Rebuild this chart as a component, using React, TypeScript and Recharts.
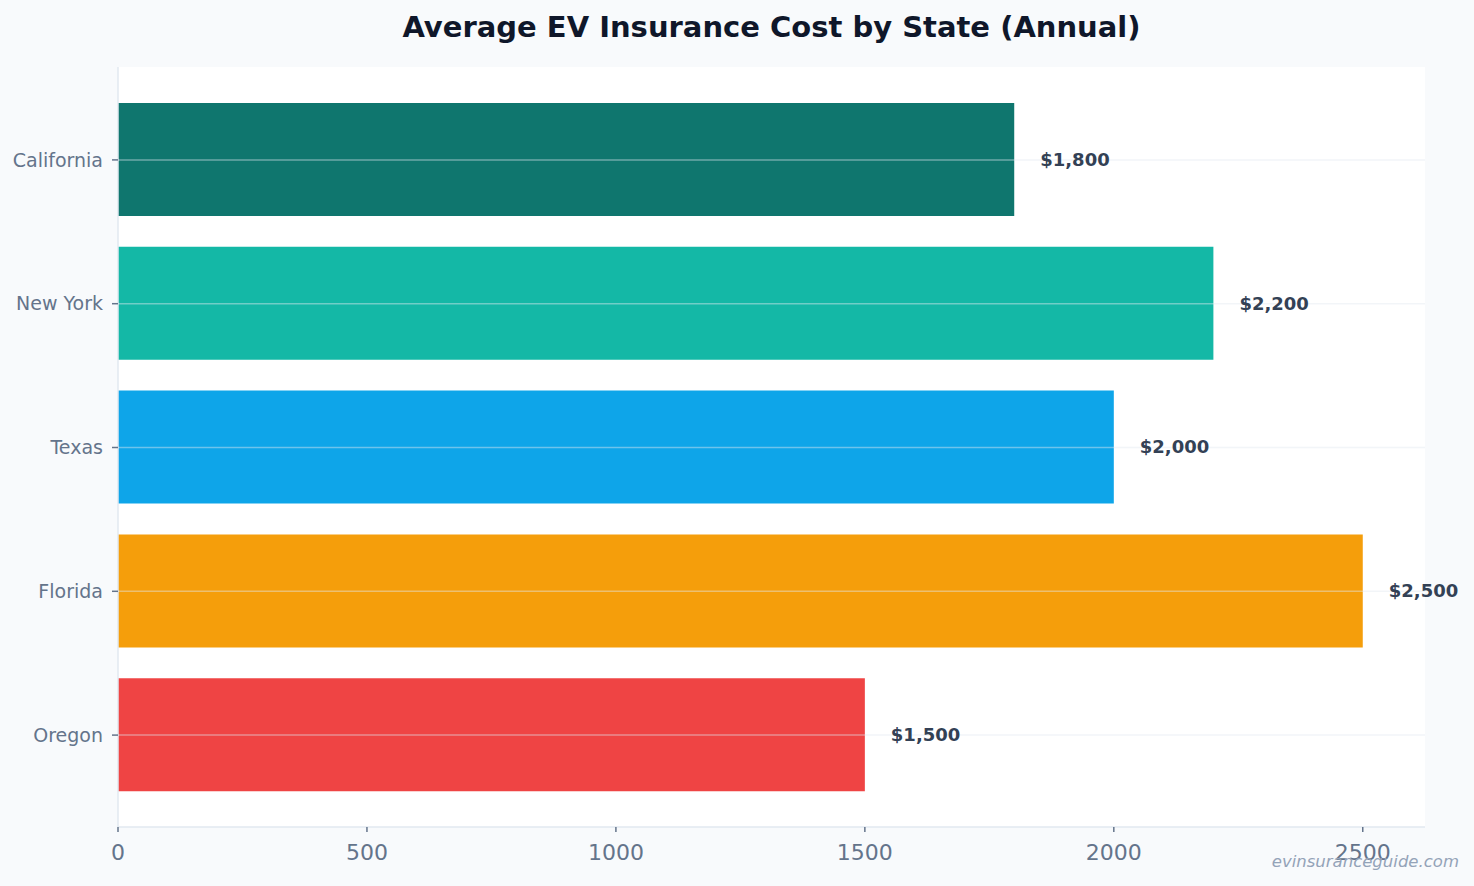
import { BarChart, Bar, Cell, XAxis, YAxis, CartesianGrid, ReferenceLine, LabelList } from 'recharts';

const states = ['California', 'New York', 'Texas', 'Florida', 'Oregon'];
const annualCost = [1800, 2200, 2000, 2500, 1500];
const barColors = ['#0f766e', '#14b8a6', '#0ea5e9', '#f59e0b', '#ef4444'];
const costTicks = [0, 500, 1000, 1500, 2000, 2500];

const data = states.map((state, i) => ({ state, cost: annualCost[i] }));

const FONT = '"DejaVu Sans", sans-serif';

const fmtCost = (v: number) => '$' + v.toLocaleString('en-US');

export default function App() {
  return (
    <div
      style={{
        position: 'absolute',
        left: 0,
        top: 0,
        width: 1474,
        height: 886,
        background: '#f8fafc',
        fontFamily: FONT,
      }}
    >
      <div
        style={{
          position: 'absolute',
          left: 118,
          width: 1307,
          top: 8,
          textAlign: 'center',
          fontSize: 29,
          fontWeight: 'bold',
          color: '#0f172a',
          lineHeight: '38px',
        }}
      >
        Average EV Insurance Cost by State (Annual)
      </div>
      <BarChart
        width={1474}
        height={886}
        data={data}
        layout="vertical"
        margin={{ top: 67, right: 49, bottom: 0, left: 0 }}
        style={{ position: 'absolute', left: 0, top: 0 }}
      >
        <CartesianGrid fill="#ffffff" horizontal={false} vertical={false} />
        <XAxis
          type="number"
          dataKey="cost"
          domain={[0, 2625]}
          ticks={costTicks}
          allowDataOverflow
          height={59}
          tick={{ fontSize: 22, fill: '#64748b', fontFamily: FONT }}
          tickSize={5}
          tickMargin={12}
          tickLine={{ stroke: '#64748b', strokeWidth: 1.5 }}
          axisLine={{ stroke: '#e2e8f0', strokeWidth: 1.5 }}
        />
        <YAxis
          type="category"
          dataKey="state"
          width={118}
          padding={{ top: 21, bottom: 20 }}
          tick={{ fontSize: 19, fill: '#64748b', fontFamily: FONT }}
          tickSize={6}
          tickMargin={9}
          tickLine={{ stroke: '#64748b', strokeWidth: 1.5 }}
          axisLine={{ stroke: '#e2e8f0', strokeWidth: 1.5 }}
        />
        <Bar dataKey="cost" barSize={113} isAnimationActive={false}>
          {data.map((d, i) => (
            <Cell key={d.state} fill={barColors[i]} />
          ))}
          <LabelList
            dataKey="cost"
            position="right"
            offset={26}
            formatter={(v: any) => fmtCost(Number(v))}
            style={{ fontSize: 18, fontWeight: 'bold', fill: '#334155', fontFamily: FONT }}
          />
        </Bar>
        {states.map((s) => (
          <ReferenceLine key={s} y={s} stroke="#e2e8f0" strokeOpacity={0.45} strokeWidth={1.5} />
        ))}
      </BarChart>
      <div
        style={{
          position: 'absolute',
          right: 15,
          top: 852,
          fontSize: 16.5,
          fontStyle: 'italic',
          color: '#94a3b8',
        }}
      >
        evinsuranceguide.com
      </div>
    </div>
  );
}
